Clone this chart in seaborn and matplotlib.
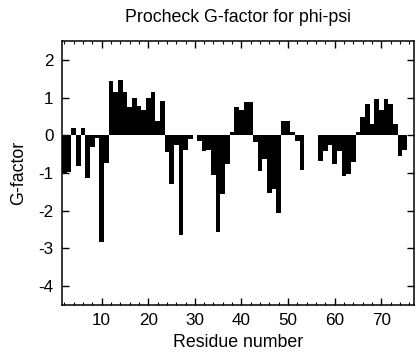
import matplotlib
matplotlib.use("Agg")
import matplotlib.pyplot as plt
import seaborn as sns
import numpy as np
import pandas as pd
from matplotlib.ticker import MultipleLocator

residues = list(range(2, 76))
gfactor = [
    -1.00, -0.97, 0.18, -0.81, 0.18, -1.14, -0.31, -0.08, -2.82, -0.74,   # 2-11
    1.43, 1.14, 1.47, 1.14, 0.75, 0.99, 0.79, 0.68, 0.99, 1.14,           # 12-21
    0.38, 0.90, -0.45, -1.29, -0.26, -2.65, -0.39, -0.10, 0.00, -0.15,    # 22-31
    -0.43, -0.39, -1.05, -2.56, -1.55, -0.77, 0.09, 0.76, 0.66, 0.89,     # 32-41
    0.89, -0.19, -0.94, -0.63, -1.53, -1.42, -2.05, 0.38, 0.39, 0.09,     # 42-51
    -0.16, -0.92, 0.00, 0.00, 0.00, -0.68, -0.43, -0.25, -0.75, -0.41,    # 52-61
    -1.07, -1.04, -0.72, 0.09, 0.48, 0.84, 0.29, 0.96, 0.66, 0.95,        # 62-71
    0.82, 0.31, -0.56, -0.39,                                             # 72-75
]
title = "Procheck G-factor for phi-psi"
xlabel = "Residue number"
ylabel = "G-factor"

df = pd.DataFrame({"residue": residues, "g": gfactor})

sns.set_style("ticks")
plt.rcParams['font.family'] = ['Liberation Sans', 'DejaVu Sans']
plt.rcParams['axes.unicode_minus'] = False
plt.rcParams['text.color'] = 'black'
plt.rcParams['axes.labelcolor'] = 'black'
plt.rcParams['xtick.color'] = 'black'
plt.rcParams['ytick.color'] = 'black'

fig = plt.figure(figsize=(4.16, 3.60), dpi=100)
ax = fig.add_axes([0.149, 0.153, 0.846, 0.733])

sns.barplot(data=df, x="residue", y="g", native_scale=True, color="black",
            width=1.0, linewidth=0, edgecolor="none", saturation=1, ax=ax)

ax.set_xlim(1.5, 77)
ax.set_ylim(-4.5, 2.5)
ax.xaxis.set_major_locator(MultipleLocator(10))
ax.xaxis.set_minor_locator(MultipleLocator(2))
ax.yaxis.set_major_locator(MultipleLocator(1))
ax.tick_params(axis="both", which="major", direction="in", length=5, width=1.0,
               top=True, right=True, labelsize=12.3, pad=6,
               color="black", labelcolor="black")
ax.tick_params(axis="x", which="minor", direction="in", length=2.5, width=0.8,
               top=True, bottom=True, color="black")
for s in ax.spines.values():
    s.set_linewidth(1.1)
    s.set_color("black")

ax.set_title(title, fontsize=12.8, pad=14, color="black")
ax.set_xlabel(xlabel, fontsize=12.8, labelpad=4, color="black")
ax.set_ylabel(ylabel, fontsize=12.8, labelpad=8, color="black")

fig.savefig("out.png", dpi=100)
